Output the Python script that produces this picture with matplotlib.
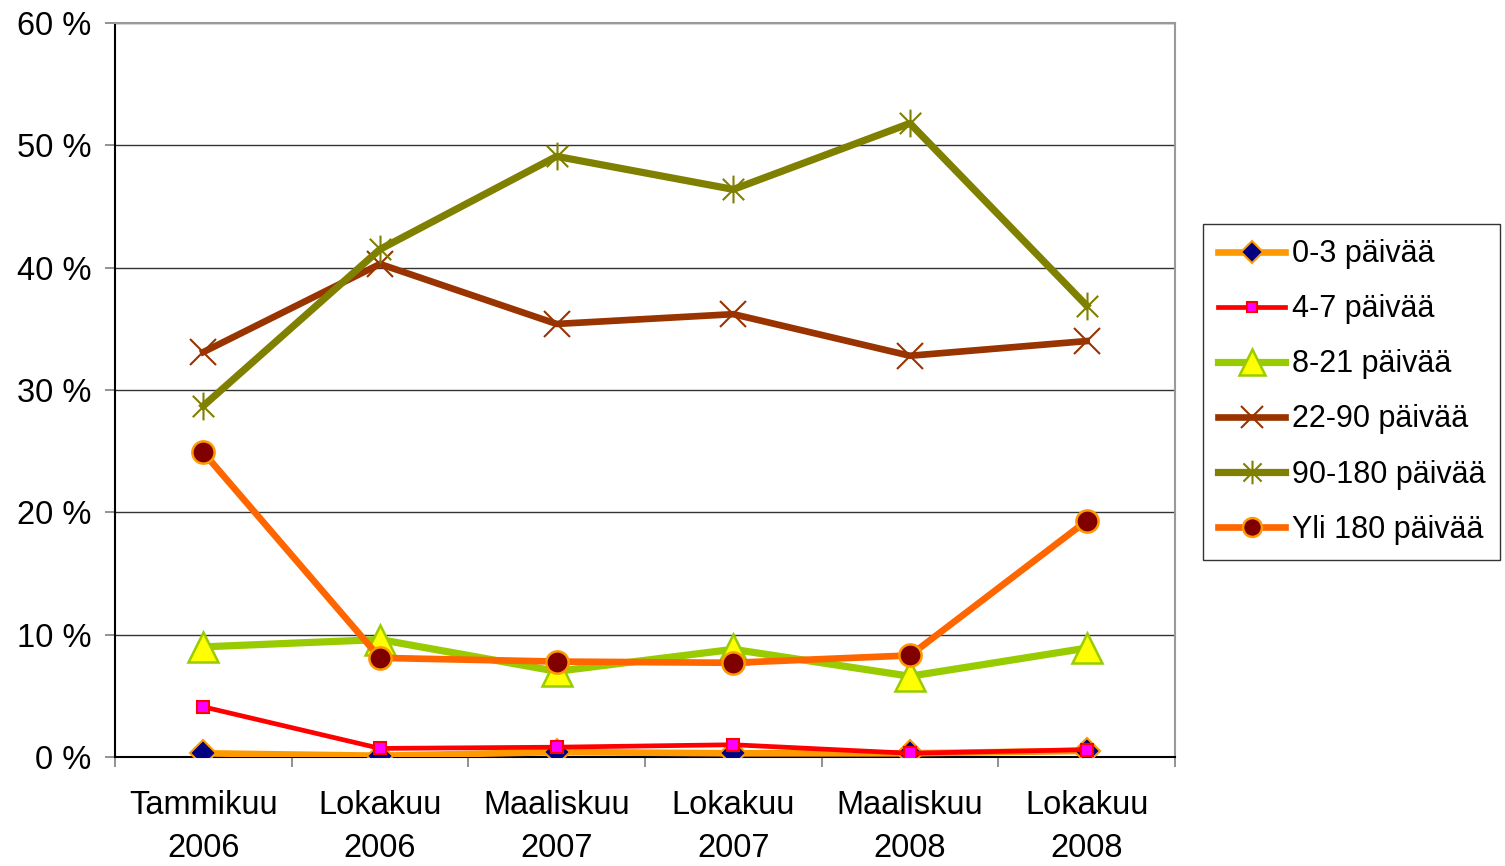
import matplotlib
matplotlib.use("Agg")
import matplotlib.pyplot as plt
from matplotlib.path import Path
from matplotlib.ticker import FuncFormatter

plt.rcParams['font.family'] = ['Liberation Sans', 'DejaVu Sans']

# Data
categories = ["Tammikuu\n2006", "Lokakuu\n2006", "Maaliskuu\n2007",
              "Lokakuu\n2007", "Maaliskuu\n2008", "Lokakuu\n2008"]
labels = ["0-3 päivää", "4-7 päivää", "8-21 päivää",
          "22-90 päivää", "90-180 päivää", "Yli 180 päivää"]
d_0_3 = [0.3, 0.1, 0.4, 0.3, 0.3, 0.5]
d_4_7 = [4.1, 0.7, 0.8, 1.0, 0.3, 0.6]
d_8_21 = [9.0, 9.6, 7.0, 8.8, 6.6, 8.9]
d_22_90 = [33.1, 40.3, 35.4, 36.2, 32.8, 34.0]
d_90_180 = [28.7, 41.5, 49.1, 46.4, 51.8, 36.9]
d_yli_180 = [24.9, 8.1, 7.8, 7.7, 8.3, 19.3]

# asterisk marker: x plus a vertical bar
star = Path([(-1, -1), (1, 1), (-1, 1), (1, -1), (0, -1.3), (0, 1.3)],
            [Path.MOVETO, Path.LINETO, Path.MOVETO, Path.LINETO,
             Path.MOVETO, Path.LINETO])

fig = plt.figure(figsize=(15.05, 8.66), dpi=100)
ax = fig.add_axes([0.0764, 0.1259, 0.7043, 0.8475])

x = range(len(categories))

ax.plot(x, d_0_3, color='#FF9900', lw=4.8, marker='D', ms=13,
        mfc='#000080', mec='#FF9900', mew=1.5, label=labels[0], zorder=3)
ax.plot(x, d_4_7, color='#FF0000', lw=3.4, marker='s', ms=9,
        mfc='#FF00FF', mec='#FF0000', mew=1.5, label=labels[1], zorder=4)
ax.plot(x, d_8_21, color='#99CC00', lw=5.2, marker='^', ms=22,
        mfc='#FFFF00', mec='#99CC00', mew=1.8, label=labels[2], zorder=3)
ax.plot(x, d_22_90, color='#993300', lw=4.8, marker='x', ms=19,
        mec='#993300', mew=1.5, label=labels[3], zorder=3)
ax.plot(x, d_90_180, color='#808000', lw=5.2, marker=star, ms=20,
        mec='#808000', mew=1.5, label=labels[4], zorder=3)
ax.plot(x, d_yli_180, color='#FF6600', lw=4.8, marker='o', ms=16,
        mfc='#800000', mec='#FF9900', mew=1.8, label=labels[5], zorder=3)

ax.set_xlim(-0.5, len(categories) - 0.5)
ax.set_ylim(0, 60)
ax.set_yticks(range(0, 61, 10))
ax.yaxis.set_major_formatter(FuncFormatter(lambda v, p: f"{int(v)} %"))
ax.set_xticks(list(x))
ax.set_xticklabels(categories, linespacing=1.5)
ax.set_xticks([i - 0.5 for i in range(len(categories) + 1)], minor=True)
ax.tick_params(axis='x', which='major', length=0, pad=24, labelsize=23.5)
ax.tick_params(axis='x', which='minor', length=7, width=1.2, color='#808080')
ax.tick_params(axis='y', length=7, width=1.2, color='#808080', pad=10,
               labelsize=23.5)

ax.grid(axis='y', color='#333333', lw=1)
ax.set_axisbelow(True)
ax.spines['left'].set_color('black')
ax.spines['bottom'].set_color('black')
ax.spines['left'].set_linewidth(1.5)
ax.spines['bottom'].set_linewidth(1.5)
ax.spines['top'].set_color('#999999')
ax.spines['right'].set_color('#999999')
ax.spines['top'].set_linewidth(1.5)
ax.spines['right'].set_linewidth(1.5)

leg = fig.legend(loc='upper left', bbox_to_anchor=(0.7993, 0.7413),
                 bbox_transform=fig.transFigure, borderaxespad=0,
                 fontsize=22, frameon=True, fancybox=False,
                 edgecolor='black', handlelength=2.2, handletextpad=0.2,
                 labelspacing=0.82, borderpad=0.5, markerscale=0.85)
leg.get_frame().set_linewidth(1)

fig.savefig("out.png", dpi=100)
